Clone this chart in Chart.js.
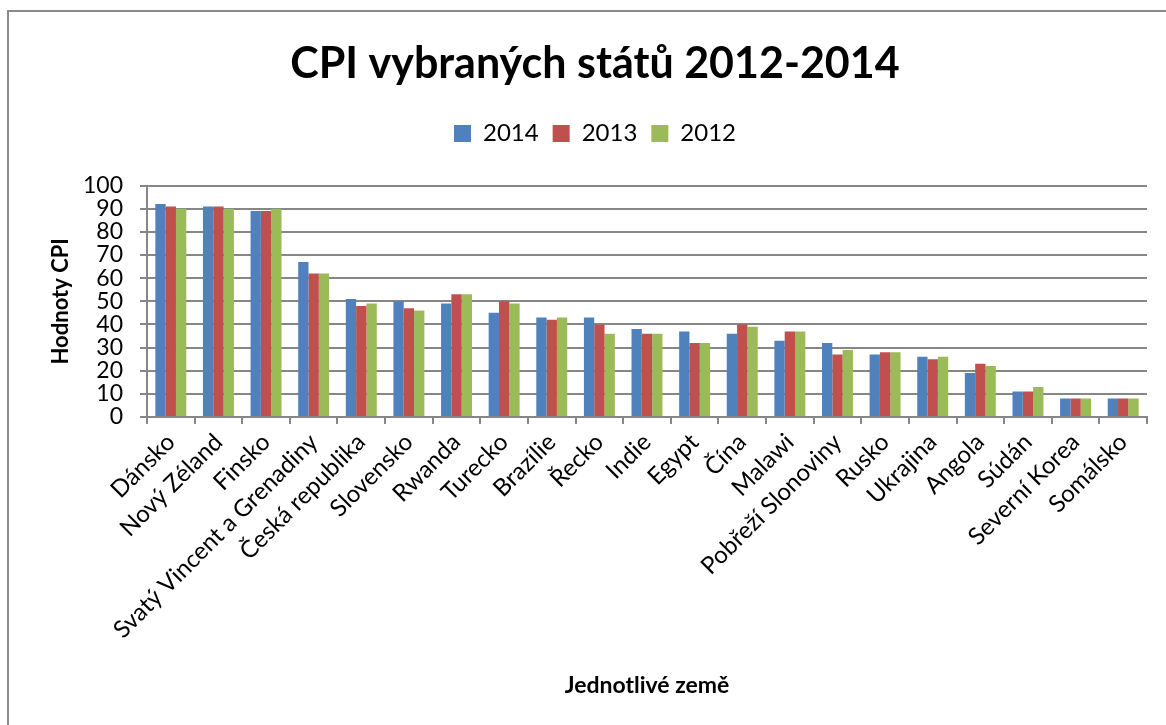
<!DOCTYPE html>
<html><head><meta charset="utf-8">
<script src="https://cdn.jsdelivr.net/npm/chart.js@4"></script>
<style>html,body{margin:0;padding:0;background:#fff}#wrap{width:1166px;height:725px}</style>
</head><body><div id="wrap"><canvas id="c" width="1166" height="725"></canvas></div>
<script>
const categories = ["Dánsko","Nový Zéland","Finsko","Svatý Vincent a Grenadiny","Česká republika","Slovensko","Rwanda","Turecko","Brazílie","Řecko","Indie","Egypt","Čína","Malawi","Pobřeží Slonoviny","Rusko","Ukrajina","Angola","Súdán","Severní Korea","Somálsko"];
const cpi2014 = [92,91,89,67,51,50,49,45,43,43,38,37,36,33,32,27,26,19,11,8,8];
const cpi2013 = [91,91,89,62,48,47,53,50,42,40,36,32,40,37,27,28,25,23,11,8,8];
const cpi2012 = [90,90,90,62,49,46,53,49,43,36,36,32,39,37,29,28,26,22,13,8,8];
const seriesNames = ["2014","2013","2012"];
const yTicks = [0,10,20,30,40,50,60,70,80,90,100];

const FONT = "Lato, 'Open Sans', sans-serif";
const frame = {
  id:'frame',
  beforeDraw(chart){
    const c = chart.ctx; c.save();
    c.fillStyle='#fff'; c.fillRect(0,0,chart.width,chart.height);
    c.strokeStyle='#8a8a8a'; c.lineWidth=2;
    c.strokeRect(8,11,chart.width+10,chart.height+10);
    c.restore();
  }
};
const legendPad = {
  id:'legendPad',
  beforeInit(chart){
    const fit = chart.legend.fit;
    chart.legend.fit = function(){ fit.bind(chart.legend)(); this.height += 30; };
  }
};
new Chart(document.getElementById('c'), {
  type:'bar',
  data:{
    labels:categories,
    datasets:[
      {label:seriesNames[0], data:cpi2014, backgroundColor:'#4F81BD'},
      {label:seriesNames[1], data:cpi2013, backgroundColor:'#C0504D'},
      {label:seriesNames[2], data:cpi2012, backgroundColor:'#9BBB59'}
    ]
  },
  plugins:[frame, legendPad],
  options:{
    responsive:false, animation:false, devicePixelRatio:1,
    layout:{padding:{left:43,right:19,top:0,bottom:0}},
    datasets:{bar:{categoryPercentage:0.65, barPercentage:1.0}},
    plugins:{
      title:{display:true, text:'CPI vybraných států 2012-2014', color:'#000',
        font:{family:FONT, size:43, weight:'bold'}, padding:{top:38,bottom:18}},
      legend:{display:true, position:'top',
        labels:{color:'#000', font:{family:FONT, size:24}, boxWidth:17, boxHeight:17, padding:14}},
      tooltip:{enabled:false}
    },
    scales:{
      x:{
        grid:{display:true, drawOnChartArea:false, drawTicks:true, tickLength:7, color:'#868686', lineWidth:2, offset:true},
        border:{display:true, color:'#868686', width:2},
        ticks:{color:'#000', font:{family:FONT, size:24}, minRotation:45, maxRotation:45, autoSkip:false, padding:4},
        title:{display:true, text:'Jednotlivé země', color:'#000', font:{family:FONT, size:23, weight:'bold'}, padding:{top:0,bottom:26}},
        afterFit(s){ s.height = 308; }
      },
      y:{
        min:0, max:100,
        afterBuildTicks(s){ s.ticks = yTicks.map(v=>({value:v})); },
        grid:{color:'#868686', lineWidth:2, tickLength:7},
        border:{display:true, color:'#868686', width:2},
        ticks:{color:'#000', font:{family:FONT, size:23}, padding:17, autoSkip:false, stepSize:10},
        title:{display:true, text:'Hodnoty CPI', color:'#000', font:{family:FONT, size:22, weight:'bold'}, padding:{top:5,bottom:0}},
        afterFit(s){ s.width = 104; }
      }
    }
  }
});
</script></body></html>
